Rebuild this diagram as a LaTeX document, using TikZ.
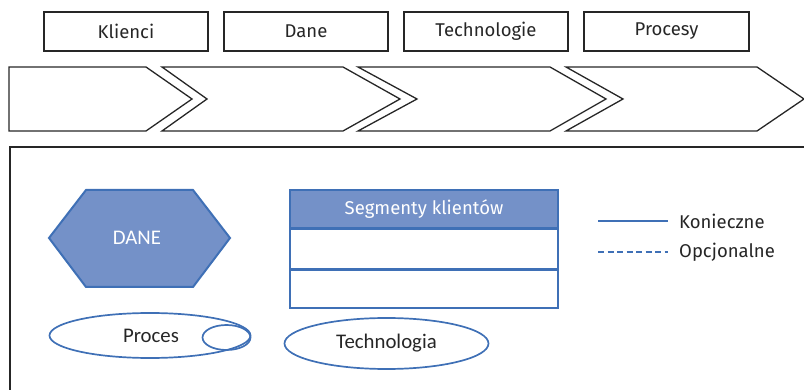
\documentclass[tikz,border=0pt]{standalone}
\usepackage{fontspec}
\setmainfont{Carlito}
\newfontfamily\uifont{Fira Sans}
\definecolor{edgeblue}{RGB}{63,112,182}
\definecolor{fillblue}{RGB}{116,145,200}
\definecolor{ink}{RGB}{38,38,38}
\tikzset{
  label/.style={font=\uifont\fontsize{18.5}{21}\selectfont, text=ink, inner sep=0pt},
  ovallabel/.style={font=\fontsize{20.8}{24}\selectfont, text=ink, inner sep=0pt},
  headbox/.style={draw=ink, line width=1.4pt, rectangle, minimum height=39pt, label},
  arrowshape/.style={draw=ink, line width=1.3pt, line join=miter},
  rowbox/.style={draw=edgeblue, line width=1.6pt, rectangle, minimum width=268pt, inner sep=0pt},
  blueoval/.style={draw=edgeblue, line width=1.7pt, ellipse, inner sep=0pt},
}
\usetikzlibrary{shapes.geometric}
\begin{document}
\begin{tikzpicture}[x=1pt, y=-1pt]
\useasboundingbox (0,0) rectangle (804,390);

% category headers
\node[headbox, minimum width=164pt] (klienci) at (126,31.5) {Klienci};
\node[headbox, minimum width=164pt] (dane) at (306,31.5) {Dane};
\node[headbox, minimum width=164pt] (tech) at (486,31.5) {Technologie};
\node[headbox, minimum width=165pt] (procesy) at (666.5,31.5) {Procesy};

% value chain arrows
\draw[arrowshape] (9,67) -- (146,67) -- (192,99) -- (146,131) -- (9,131) -- cycle;
\draw[arrowshape] (162,67) -- (343,67) -- (400,99) -- (343,131) -- (162,131) -- (207,99) -- cycle;
\draw[arrowshape] (358,67) -- (550,67) -- (606,99) -- (550,131) -- (358,131) -- (417,99) -- cycle;
\draw[arrowshape] (566,67) -- (757,67) -- (804,99) -- (757,131) -- (566,131) -- (623,99) -- cycle;

% legend frame
\draw[draw=ink, line width=2pt] (10,392) -- (10,147) -- (806,147);

% data hexagon
\draw[draw=edgeblue, fill=fillblue, line width=2pt, line join=miter]
  (49,238) -- (86,190) -- (193,190) -- (230,238) -- (193,287) -- (86,287) -- cycle;
\node[ovallabel, text=white] (daneLbl) at (137,238) {DANE};

% customer segment table
\node[rowbox, fill=fillblue, minimum height=38pt, label, text=white] (seg) at (424,209) {Segmenty klientów};
\node[rowbox, minimum height=39pt, anchor=north] (row1) at (seg.south) {};
\node[rowbox, minimum height=38pt, anchor=north] (row2) at (row1.south) {};

% process and technology ovals
\node[blueoval, minimum width=201pt, minimum height=45pt] (proc) at (150,335.5) {};
\node[blueoval, minimum width=48pt, minimum height=25pt] (procLoop) at (226.5,337.5) {};
\node[ovallabel] (procLbl) at (151,336) {Proces};
\node[blueoval, minimum width=204pt, minimum height=51pt, ovallabel] (techOval) at (386.5,343.5) {Technologia};

% line legend
\coordinate (solidA) at (598,221);
\coordinate (solidB) at (668,221);
\coordinate (dashA) at (598,252);
\coordinate (dashB) at (668,252);
\draw[edgeblue, line width=1.5pt] (solidA) -- (solidB);
\draw[edgeblue, line width=1.5pt, dash pattern=on 6pt off 3.5pt] (dashA) -- (dashB);
\node[label, anchor=west] (konLbl) at (679,221) {Konieczne};
\node[label, anchor=west] (opcLbl) at (679,252) {Opcjonalne};
\end{tikzpicture}
\end{document}
